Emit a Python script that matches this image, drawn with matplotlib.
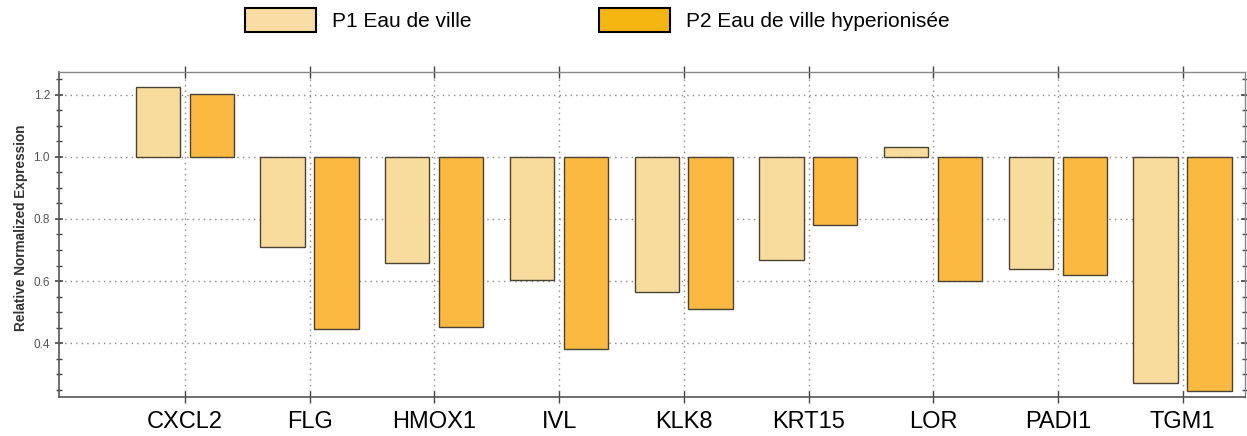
import numpy as np
import matplotlib.pyplot as plt
from matplotlib.patches import Patch
from matplotlib.ticker import MultipleLocator

plt.rcParams['font.family'] = ['Liberation Sans', 'DejaVu Sans']

# 数据
genes = ['CXCL2', 'FLG', 'HMOX1', 'IVL', 'KLK8', 'KRT15', 'LOR', 'PADI1', 'TGM1']
p1 = [1.226, 0.71, 0.658, 0.603, 0.565, 0.668, 1.032, 0.639, 0.271]
p2 = [1.203, 0.445, 0.452, 0.381, 0.51, 0.78, 0.60, 0.619, 0.245]
labels = ['P1 Eau de ville', 'P2 Eau de ville hyperionisée']

base = 1.0
x = np.arange(len(genes))
w = 0.355

fig = plt.figure(figsize=(12.47, 4.36), dpi=100)
ax = fig.add_axes([0.0473, 0.0894, 0.9511, 0.7456])

# 以 1.0 为基线绘制柱子
ax.bar(x - 0.217, np.array(p1) - base, w, bottom=base, color='#F8DC9D',
       edgecolor='#4a4333', linewidth=1.0, zorder=3)
ax.bar(x + 0.215, np.array(p2) - base, w, bottom=base, color='#FBB942',
       edgecolor='#4a4333', linewidth=1.0, zorder=3)

ax.set_xlim(-1.01, 8.5)
ax.set_ylim(0.226, 1.274)
ax.set_xticks(x)
ax.set_xticklabels(genes, fontsize=17)
ax.yaxis.set_major_locator(MultipleLocator(0.2))
ax.yaxis.set_minor_locator(MultipleLocator(0.05))
ax.set_yticks([0.4, 0.6, 0.8, 1.0, 1.2])
ax.set_yticklabels(['0.4', '0.6', '0.8', '1.0', '1.2'])
ax.tick_params(axis='y', which='major', labelsize=8.5, labelcolor='#555555',
               direction='inout', length=6, width=1.2, color='#444444', right=True)
ax.tick_params(axis='y', which='minor', direction='inout', length=4, width=1.0,
               color='#444444', right=True)
ax.tick_params(axis='x', direction='inout', length=8, width=1.0, color='#444444',
               pad=6, top=True)

ax.set_ylabel('Relative Normalized Expression', fontsize=9.8, fontweight='bold',
              color='#333333', labelpad=5)
ax.yaxis.set_label_coords(-0.0265, 0.52)

# 网格
ax.grid(True, linestyle=(0, (1, 3)), color='#888888', linewidth=1.0, zorder=0)

for s in ['left', 'bottom']:
    ax.spines[s].set_color('#555555')
    ax.spines[s].set_linewidth(1.2)
for s in ['top', 'right']:
    ax.spines[s].set_color('#888888')
    ax.spines[s].set_linewidth(1.0)

# 图例
handles = [Patch(facecolor='#F8DCA3', edgecolor='black', linewidth=1.5),
           Patch(facecolor='#F5B611', edgecolor='black', linewidth=1.5)]
fig.legend(handles, labels, loc='center', bbox_to_anchor=(0.479, 0.954),
           ncol=2, frameon=False, fontsize=15, handlelength=3.4, handleheight=1.45,
           handletextpad=0.8, columnspacing=6.1)

plt.savefig('out.png', dpi=100)
